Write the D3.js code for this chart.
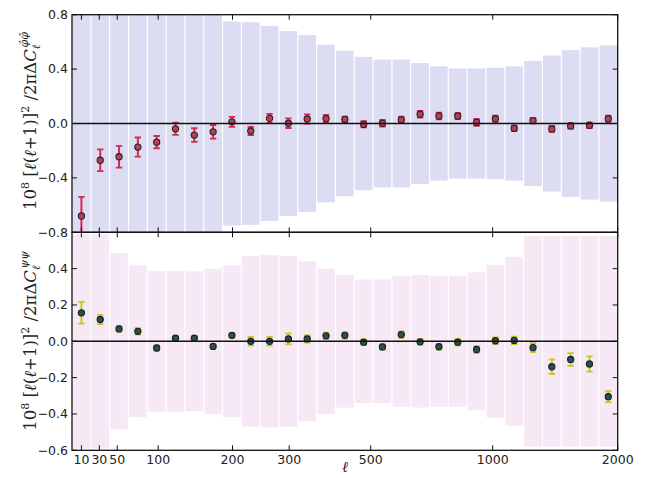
<!DOCTYPE html>
<html><head><meta charset="utf-8">
<script src="https://cdn.jsdelivr.net/npm/d3@7"></script>
<style>body{margin:0;background:#fff}</style>
</head><body><svg id="c" width="647" height="478"></svg>
<script>
const ellCenters = [10,31,52,73,98,123,148,174,199,232,265,298,344,390,436,482,530,605,680,755,830,910,1015,1166,1318,1469,1621,1772,1924];
const xTicks = [10,30,50,100,200,300,500,1000,2000];
const phiValues = [-0.68,-0.27,-0.244,-0.173,-0.137,-0.039,-0.085,-0.061,0.012,-0.055,0.038,0.002,0.033,0.036,0.031,-0.006,0.002,0.028,0.068,0.055,0.055,0.008,0.035,-0.035,0.021,-0.04,-0.018,-0.013,0.035];
const phiErrors = [0.14,0.08,0.08,0.07,0.045,0.045,0.05,0.05,0.037,0.03,0.033,0.035,0.034,0.027,0.02,0.023,0.024,0.022,0.025,0.025,0.022,0.025,0.022,0.02,0.02,0.022,0.02,0.02,0.022];
const phiBand = [1.2,1.1,1.0,0.95,0.9,0.87,0.84,0.8,0.75,0.745,0.717,0.68,0.65,0.58,0.535,0.49,0.47,0.47,0.445,0.42,0.405,0.405,0.41,0.42,0.46,0.5,0.54,0.56,0.575];
const psiValues = [0.157,0.12,0.068,0.055,-0.037,0.017,0.017,-0.028,0.033,0.0,0.0,0.013,0.013,0.03,0.033,-0.005,-0.031,0.037,-0.003,-0.03,-0.005,-0.045,0.003,0.005,-0.035,-0.14,-0.1,-0.125,-0.305];
const psiErrors = [0.06,0.025,0.015,0.018,0.015,0.012,0.012,0.012,0.012,0.024,0.024,0.03,0.02,0.018,0.018,0.015,0.015,0.018,0.015,0.015,0.018,0.018,0.018,0.02,0.025,0.04,0.035,0.042,0.03];
const psiBand = [0.59,0.59,0.485,0.418,0.387,0.387,0.385,0.4,0.418,0.47,0.475,0.47,0.44,0.4,0.365,0.34,0.34,0.36,0.365,0.36,0.36,0.38,0.42,0.465,0.58,0.58,0.58,0.58,0.58];
const phiTicks = [0.8,0.4,0.0,-0.4,-0.8];
const psiTicks = [0.4,0.2,0.0,-0.2,-0.4,-0.6];

const svg = d3.select("#c");
const L = 72, R = 617.7;
const xIdx = d3.scaleLinear().domain([-0.5, ellCenters.length - 0.5]).range([L, R]);
const x = d3.scaleLinear().domain(ellCenters).range(ellCenters.map((d,i)=>xIdx(i)));
const step = xIdx(1) - xIdx(0);

const fmt = v => (v < 0 ? "\u2212" : "") + Math.abs(v).toFixed(1);

function panel(opts){
  const {y, top, bottom, vals, errs, band, bandColor, errColor, mFill, mStroke, ticks, id} = opts;
  const g = svg.append("g");
  g.append("clipPath").attr("id", id).append("rect")
    .attr("x", L).attr("y", top).attr("width", R-L).attr("height", bottom-top);
  const cg = g.append("g").attr("clip-path", `url(#${id})`);
  cg.selectAll("rect.band").data(band).enter().append("rect")
    .attr("x", (d,i)=>xIdx(i)-step/2+0.6)
    .attr("width", step-1.2)
    .attr("y", d=>y(d)).attr("height", d=>y(-d)-y(d))
    .attr("fill", bandColor);
  g.append("line").attr("x1", L).attr("x2", R).attr("y1", y(0)).attr("y2", y(0))
    .attr("stroke", "#111").attr("stroke-width", 1.4);
  const eb = cg.selectAll("g.eb").data(vals).enter().append("g");
  eb.append("line").attr("x1",(d,i)=>x(ellCenters[i])).attr("x2",(d,i)=>x(ellCenters[i]))
    .attr("y1",(d,i)=>y(d+errs[i])).attr("y2",(d,i)=>y(d-errs[i]))
    .attr("stroke", errColor).attr("stroke-width", 2);
  [1,-1].forEach(s=>{
    eb.append("line").attr("x1",(d,i)=>x(ellCenters[i])-3.2).attr("x2",(d,i)=>x(ellCenters[i])+3.2)
      .attr("y1",(d,i)=>y(d+s*errs[i])).attr("y2",(d,i)=>y(d+s*errs[i]))
      .attr("stroke", errColor).attr("stroke-width", 1.8);
  });
  eb.append("circle").attr("cx",(d,i)=>x(ellCenters[i])).attr("cy",d=>y(d)).attr("r",3.1)
    .attr("fill", mFill).attr("stroke", mStroke).attr("stroke-width", 1.1);
  g.append("rect").attr("x", L).attr("y", top).attr("width", R-L).attr("height", bottom-top)
    .attr("fill","none").attr("stroke","#111").attr("stroke-width",1.3);
  xTicks.forEach(t=>{
    g.append("line").attr("x1",x(t)).attr("x2",x(t)).attr("y1",top).attr("y2",top+5).attr("stroke","#111").attr("stroke-width",1);
    g.append("line").attr("x1",x(t)).attr("x2",x(t)).attr("y1",bottom).attr("y2",bottom-5).attr("stroke","#111").attr("stroke-width",1);
  });
  ticks.forEach(t=>{
    g.append("line").attr("x1",L).attr("x2",L+5).attr("y1",y(t)).attr("y2",y(t)).attr("stroke","#111").attr("stroke-width",1);
    g.append("line").attr("x1",R).attr("x2",R-5).attr("y1",y(t)).attr("y2",y(t)).attr("stroke","#111").attr("stroke-width",1);
    g.append("text").attr("x", L-4).attr("y", y(t)).attr("dy","0.35em")
      .attr("text-anchor","end").attr("font-family","DejaVu Sans").attr("font-size",12.5)
      .attr("fill","#222").text(fmt(t));
  });
}

const yPhi = d3.scaleLinear().domain([-0.8,0.8]).range([232.3,14.7]);
const yPsi = d3.scaleLinear().domain([-0.6,0.6]).range([450.3,232.3]);

panel({y:yPhi, top:14.7, bottom:232.3, vals:phiValues, errs:phiErrors, band:phiBand,
  bandColor:"#dcdcf3", errColor:"#d42a55", mFill:"#a84658", mStroke:"#3a1a22", ticks:phiTicks, id:"cp1"});
panel({y:yPsi, top:232.3, bottom:450.3, vals:psiValues, errs:psiErrors, band:psiBand,
  bandColor:"#f6e9f5", errColor:"#cfc51e", mFill:"#2a4f52", mStroke:"#152222", ticks:psiTicks, id:"cp2"});

xTicks.forEach(t=>{
  svg.append("text").attr("x", x(t)).attr("y", 464).attr("text-anchor","middle")
    .attr("font-family","DejaVu Sans").attr("font-size",12.5).attr("fill","#222").text(t);
});
svg.append("text").attr("x", 345).attr("y", 472).attr("text-anchor","middle")
  .attr("font-family","DejaVu Serif").attr("font-style","italic").attr("font-size",15).attr("fill","#222").text("\u2113");

function ylabel(cy, sup){
  const t = svg.append("text").attr("transform",`translate(36,${cy}) rotate(-90)`)
    .attr("text-anchor","middle").attr("font-family","DejaVu Serif").attr("font-size",16.5).attr("fill","#222");
  t.append("tspan").text("10");
  t.append("tspan").attr("dy",-7).attr("font-size",11).text("8");
  t.append("tspan").attr("dy",7).text(" [");
  t.append("tspan").attr("font-style","italic").text("\u2113");
  t.append("tspan").text("(");
  t.append("tspan").attr("font-style","italic").text("\u2113");
  t.append("tspan").text("+1)]");
  t.append("tspan").attr("dy",-7).attr("font-size",11).text("2");
  t.append("tspan").attr("dy",7).text(" /2\u03c0\u0394");
  t.append("tspan").attr("font-style","italic").text("C");
  t.append("tspan").attr("dy",4).attr("font-size",11).attr("font-style","italic").text("\u2113");
  t.append("tspan").attr("dy",-12).attr("dx",-3).attr("font-size",11).attr("font-style","italic").text(sup);
}
ylabel(121, "\u03c6\u0302\u03c6\u0302");
ylabel(341, "\u03c8\u03c8");
</script></body></html>
